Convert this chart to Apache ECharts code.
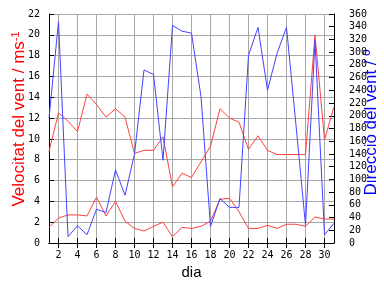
<!DOCTYPE html>
<html>
<head>
<meta charset="utf-8">
<script src="https://cdn.jsdelivr.net/npm/echarts@6/dist/echarts.min.js"></script>
<style>html,body{margin:0;padding:0;background:#fff}#c{width:384px;height:288px}</style>
</head>
<body>
<div id="c"></div>
<script>
const days = ['1','2','3','4','5','6','7','8','9','10','11','12','13','14','15','16','17','18','19','20','21','22','23','24','25','26','27','28','29','30','31'];
const maxSpeed = [8.8, 12.5, 11.7, 10.7, 14.3, 13.3, 12.1, 12.9, 12.1, 8.6, 8.9, 8.9, 10.2, 5.4, 6.7, 6.3, 7.8, 9.3, 12.9, 12.0, 11.6, 9.0, 10.3, 8.9, 8.5, 8.5, 8.5, 8.5, 20.0, 9.9, 13.1];
const meanSpeed = [1.5, 2.4, 2.7, 2.7, 2.6, 4.4, 2.6, 4.0, 2.1, 1.4, 1.15, 1.6, 2.0, 0.6, 1.5, 1.4, 1.6, 2.1, 4.2, 4.3, 3.0, 1.4, 1.4, 1.7, 1.4, 1.8, 1.8, 1.6, 2.5, 2.3, 2.3];
const direction = [196, 348, 10, 27, 13, 53, 48, 115, 75, 140, 272, 265, 130, 342, 333, 330, 230, 26, 70, 56, 56, 295, 339, 240, 298, 339, 185, 28, 318, 13, 31];

const chart = echarts.init(document.getElementById('c'), null, {renderer: 'canvas'});
const evenOnly = function (idx) { return idx % 2 === 1; };
const tickFont = {fontFamily: 'DejaVu Sans Mono', fontSize: 10, color: '#000'};
chart.setOption({
  animation: false,
  backgroundColor: '#fff',
  grid: {left: 49, right: 50, top: 14, bottom: 45, containLabel: false, outerBoundsMode: 'none'},
  xAxis: [{
    type: 'category', data: days, boundaryGap: false, position: 'bottom',
    name: 'dia', nameLocation: 'middle', nameGap: 22, nameMoveOverlap: false,
    nameTextStyle: {fontFamily: 'Liberation Sans', fontSize: 15, color: '#000'},
    axisLine: {lineStyle: {color: '#000', width: 1}},
    axisTick: {inside: true, length: 5, interval: evenOnly, lineStyle: {color: '#000'}},
    axisLabel: Object.assign({interval: evenOnly, margin: 7}, tickFont),
    splitLine: {show: true, interval: evenOnly, lineStyle: {color: '#a8a8a8', width: 1}}
  }, {
    type: 'category', data: days, boundaryGap: false, position: 'top',
    axisLine: {lineStyle: {color: '#000', width: 1}},
    axisTick: {inside: true, length: 5, interval: evenOnly, lineStyle: {color: '#000'}},
    axisLabel: {show: false},
    splitLine: {show: false}
  }],
  yAxis: [{
    type: 'value', min: 0, max: 22, interval: 2, position: 'left',
    name: 'Velocitat del vent / ms{sup|-1}', nameLocation: 'middle', nameGap: 20, nameMoveOverlap: false,
    nameTextStyle: {fontFamily: 'Liberation Sans', fontSize: 17, color: '#ff0000', padding: [0, 0, 0, 19],
      rich: {sup: {fontFamily: 'Liberation Sans', fontSize: 11, color: '#ff0000', verticalAlign: 'top', padding: [0, 0, 8, 0]}}},
    axisLine: {show: true, lineStyle: {color: '#000', width: 1}},
    axisTick: {show: true, inside: true, length: 5, lineStyle: {color: '#000'}},
    axisLabel: Object.assign({margin: 9}, tickFont),
    splitLine: {show: true, lineStyle: {color: '#a8a8a8', width: 1}}
  }, {
    type: 'value', min: 0, max: 360, interval: 20, position: 'right',
    name: 'Direcció del vent / º', nameLocation: 'middle', nameGap: 29, nameMoveOverlap: false,
    nameTextStyle: {fontFamily: 'Liberation Sans', fontSize: 17, color: '#0000ff', backgroundColor: '#fff', padding: [0, 0, 0, 12]},
    axisLine: {show: true, lineStyle: {color: '#000', width: 1}},
    axisTick: {show: true, inside: true, length: 5, lineStyle: {color: '#000'}},
    axisLabel: Object.assign({margin: 15}, tickFont),
    splitLine: {show: false}
  }],
  series: [{
    type: 'line', data: maxSpeed, xAxisIndex: 0, yAxisIndex: 0, showSymbol: false, symbol: 'none',
    lineStyle: {color: '#ff4040', width: 1}, itemStyle: {color: '#ff4040'}
  }, {
    type: 'line', data: meanSpeed, xAxisIndex: 0, yAxisIndex: 0, showSymbol: false, symbol: 'none',
    lineStyle: {color: '#ff4040', width: 1}, itemStyle: {color: '#ff4040'}
  }, {
    type: 'line', data: direction, xAxisIndex: 0, yAxisIndex: 1, showSymbol: false, symbol: 'none',
    lineStyle: {color: '#4444ff', width: 1}, itemStyle: {color: '#4444ff'}
  }]
});
</script>
</body>
</html>
